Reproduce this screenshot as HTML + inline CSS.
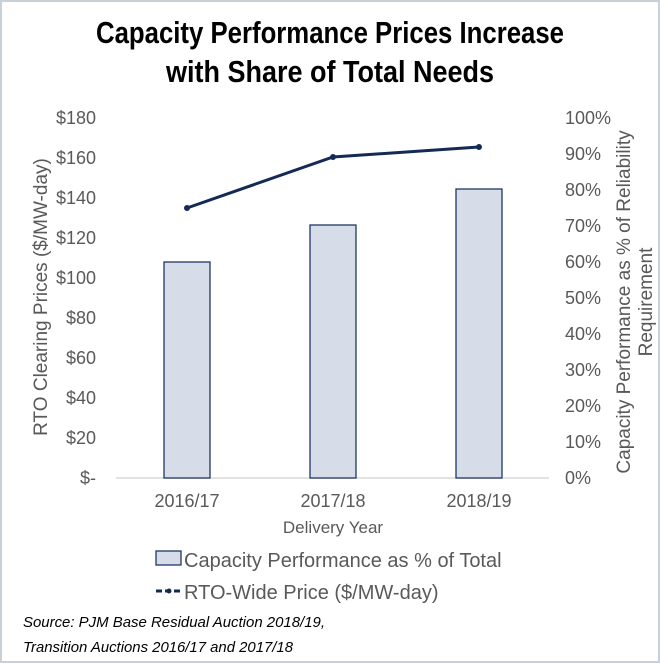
<!DOCTYPE html>
<html><head><style>
body{margin:0;background:#fff;}
svg{display:block}
</style></head><body>
<svg width="660" height="663" viewBox="0 0 660 663" xmlns="http://www.w3.org/2000/svg">
<rect x="1" y="1" width="658" height="661" fill="#fff" stroke="#c9d0da" stroke-width="2"/>
<g font-family="Liberation Sans, sans-serif" font-weight="bold" font-size="31" text-anchor="middle" fill="#000">
<text x="330" y="43" textLength="468" lengthAdjust="spacingAndGlyphs">Capacity Performance Prices Increase</text>
<text x="330" y="82" textLength="328" lengthAdjust="spacingAndGlyphs">with Share of Total Needs</text>
</g>
<line x1="116" y1="478" x2="549" y2="478" stroke="#d9d9d9" stroke-width="1.5"/>
<g fill="#d6dce8" stroke="#1f3864" stroke-width="1.3">
<rect x="164" y="262" width="46" height="216"/>
<rect x="310" y="225" width="46" height="253"/>
<rect x="456" y="189" width="46" height="289"/>
</g>
<polyline points="187,208 333,157 479,147" fill="none" stroke="#142a55" stroke-width="3"/>
<g fill="#142a55"><circle cx="187" cy="208" r="3"/><circle cx="333" cy="157" r="3"/><circle cx="479" cy="147" r="3"/></g>
<g font-family="Liberation Sans, sans-serif" font-size="18" fill="#595959">
<g text-anchor="end">
<text x="96" y="124">$180</text><text x="96" y="164">$160</text><text x="96" y="204">$140</text>
<text x="96" y="244">$120</text><text x="96" y="284">$100</text><text x="96" y="324">$80</text>
<text x="96" y="364">$60</text><text x="96" y="404">$40</text><text x="96" y="444">$20</text>
<text x="96" y="484">$-</text>
</g>
<g text-anchor="start">
<text x="565" y="124">100%</text><text x="565" y="160">90%</text><text x="565" y="196">80%</text>
<text x="565" y="232">70%</text><text x="565" y="268">60%</text><text x="565" y="304">50%</text>
<text x="565" y="340">40%</text><text x="565" y="376">30%</text><text x="565" y="412">20%</text>
<text x="565" y="448">10%</text><text x="565" y="484">0%</text>
</g>
<g text-anchor="middle">
<text x="187" y="507">2016/17</text><text x="333" y="507">2017/18</text><text x="479" y="507">2018/19</text>
</g>
<text x="333" y="533" text-anchor="middle" font-size="17">Delivery Year</text>
<text transform="translate(47,297) rotate(-90)" text-anchor="middle" font-size="19">RTO Clearing Prices ($/MW-day)</text>
<text transform="translate(630,302) rotate(-90)" text-anchor="middle" font-size="19">Capacity Performance as % of Reliability</text>
<text transform="translate(652,302) rotate(-90)" text-anchor="middle" font-size="19">Requirement</text>
<text x="184" y="567" font-size="20">Capacity Performance as % of Total</text>
<text x="184" y="599" font-size="20">RTO-Wide Price ($/MW-day)</text>
</g>
<rect x="156" y="551" width="25" height="14" fill="#d6dce8" stroke="#1f3864" stroke-width="1.3"/>
<line x1="156" y1="591" x2="182" y2="591" stroke="#142a55" stroke-width="3" stroke-dasharray="6,3"/>
<circle cx="169" cy="591" r="2.5" fill="#142a55"/>
<g font-family="Liberation Sans, sans-serif" font-style="italic" font-size="15" fill="#000">
<text x="23" y="627" textLength="302" lengthAdjust="spacingAndGlyphs">Source: PJM Base Residual Auction 2018/19,</text>
<text x="23" y="652" textLength="270" lengthAdjust="spacingAndGlyphs">Transition Auctions 2016/17 and 2017/18</text>
</g>
</svg>
</body></html>
